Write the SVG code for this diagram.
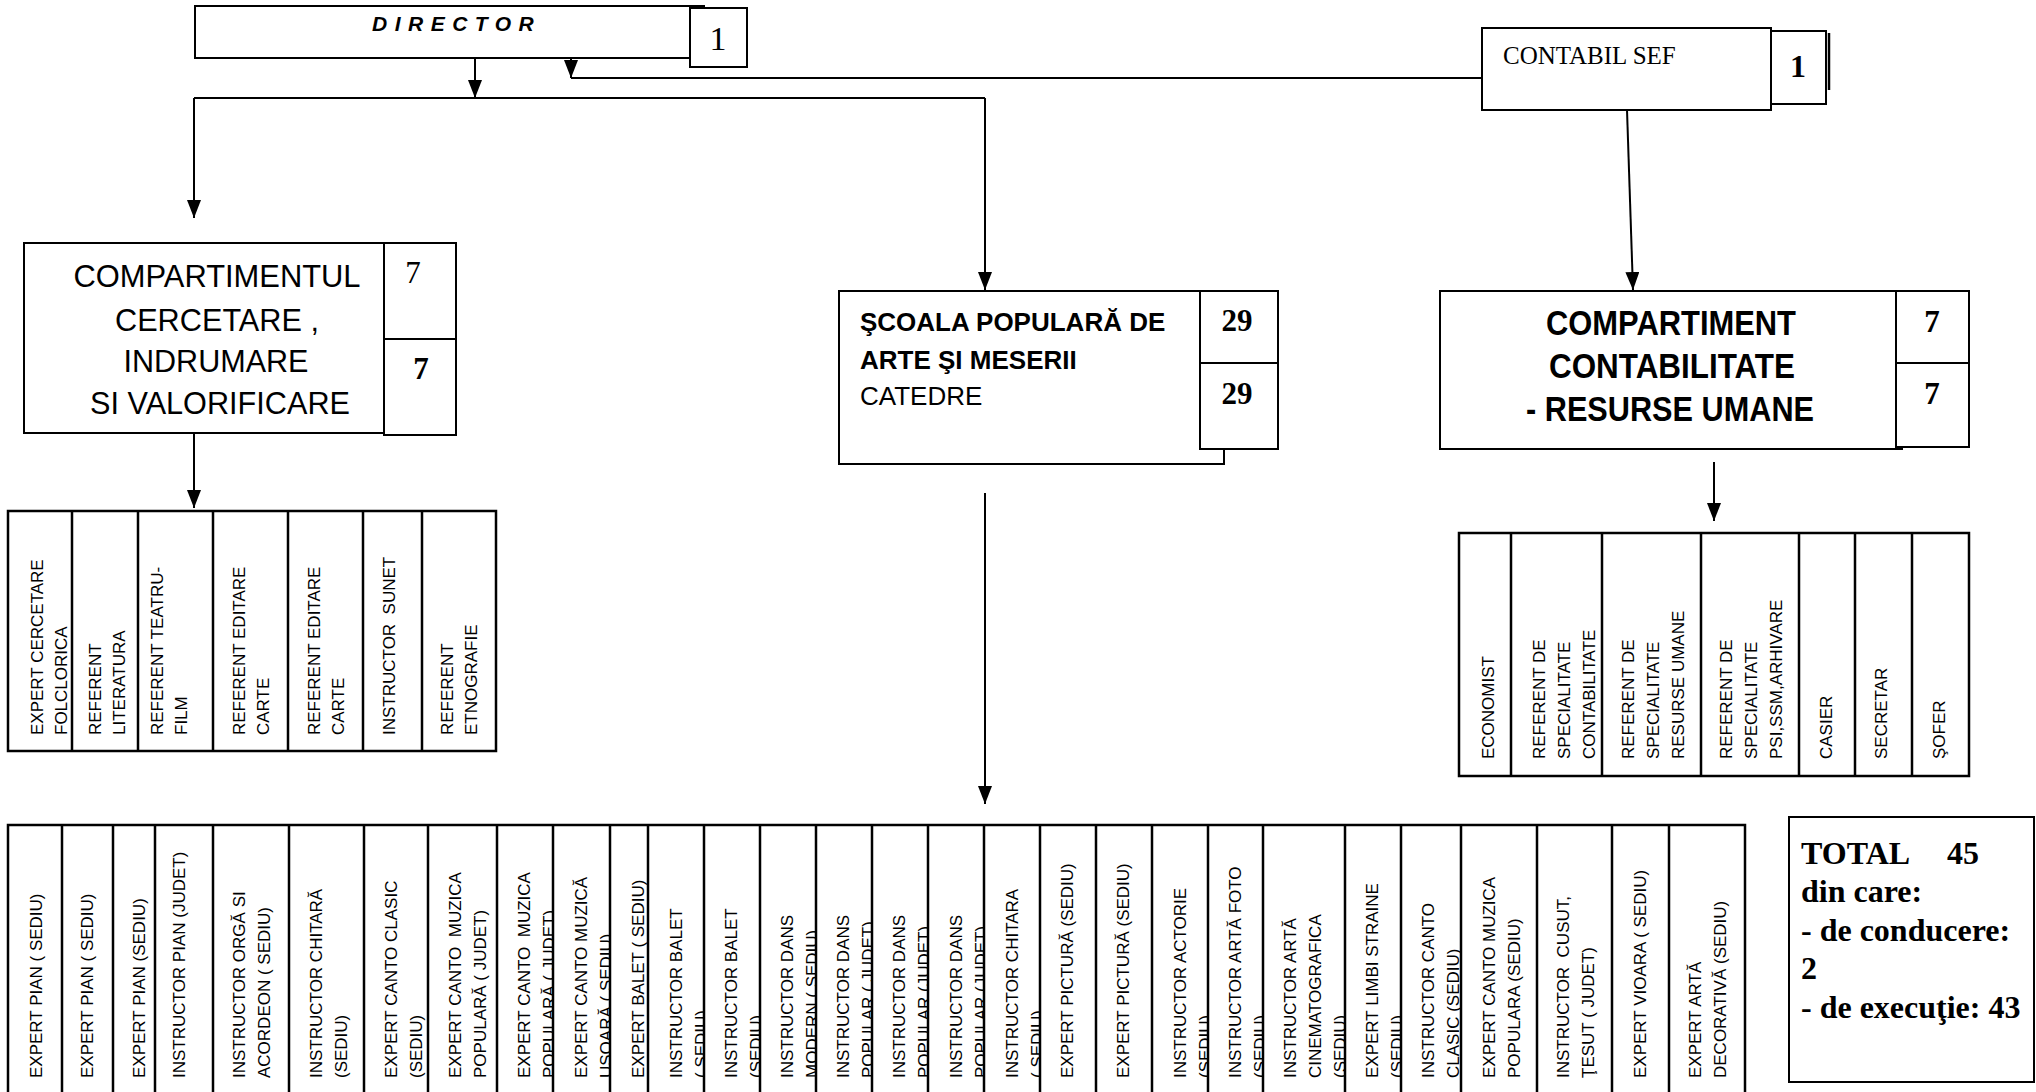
<svg xmlns="http://www.w3.org/2000/svg" width="2036" height="1092" viewBox="0 0 2036 1092">
<style>
.box{fill:#fff;stroke:#000;stroke-width:2}
.tbl{fill:none;stroke:#000;stroke-width:2.5}
.conn{fill:none;stroke:#000;stroke-width:2}
.sans{font-family:"Liberation Sans",Arial,sans-serif;fill:#000}
.serif{font-family:"Liberation Serif","Times New Roman",serif;fill:#000}
.vt{font-family:"Liberation Sans",Arial,sans-serif;font-size:17px;fill:#000;white-space:pre}
.big{font-size:31px}
.bigb{font-size:35px;font-weight:bold}
.num{font-size:31px;text-anchor:middle}
.tot{font-family:"Liberation Serif","Times New Roman",serif;font-size:32px;font-weight:bold;fill:#000}
</style>
<defs>
<marker id="arr" markerUnits="userSpaceOnUse" markerWidth="18" markerHeight="14" refX="18" refY="7" orient="auto">
<path d="M0,0 L18,7 L0,14 z" fill="#000"/>
</marker>
<clipPath id="k7"><rect x="364" y="825" width="64" height="270"/></clipPath>
<clipPath id="k9"><rect x="497" y="825" width="56" height="270"/></clipPath>
<clipPath id="k10"><rect x="553" y="825" width="57" height="270"/></clipPath>
<clipPath id="k12"><rect x="648" y="825" width="56" height="270"/></clipPath>
<clipPath id="k13"><rect x="704" y="825" width="56" height="270"/></clipPath>
<clipPath id="k14"><rect x="760" y="825" width="56" height="270"/></clipPath>
<clipPath id="k15"><rect x="816" y="825" width="56" height="270"/></clipPath>
<clipPath id="k16"><rect x="872" y="825" width="56" height="270"/></clipPath>
<clipPath id="k17"><rect x="928" y="825" width="56" height="270"/></clipPath>
<clipPath id="k18"><rect x="984" y="825" width="56" height="270"/></clipPath>
<clipPath id="k21"><rect x="1152" y="825" width="56" height="270"/></clipPath>
<clipPath id="k22"><rect x="1208" y="825" width="55" height="270"/></clipPath>
<clipPath id="k23"><rect x="1263" y="825" width="82" height="270"/></clipPath>
<clipPath id="k24"><rect x="1345" y="825" width="56" height="270"/></clipPath>
<clipPath id="k25"><rect x="1401" y="825" width="60" height="270"/></clipPath>
</defs>

<g id="connectors">
<path class="conn" d="M475,52 V98" marker-end="url(#arr)"/>
<path class="conn" d="M571,52 V78" marker-end="url(#arr)"/>
<path class="conn" d="M571,78 H1482"/>
<path class="conn" d="M194,98 H985"/>
<path class="conn" d="M194,98 V218" marker-end="url(#arr)"/>
<path class="conn" d="M985,98 V290" marker-end="url(#arr)"/>
<path class="conn" d="M1627,110 L1633,290" marker-end="url(#arr)"/>
<path class="conn" d="M194,433 V508" marker-end="url(#arr)"/>
<path class="conn" d="M985,493 V804" marker-end="url(#arr)"/>
<path class="conn" d="M1714,462 V521" marker-end="url(#arr)"/>
</g>

<g id="director">
<rect class="box" x="195" y="6" width="509" height="52"/>
<rect class="box" x="690" y="8" width="57" height="59"/>
<text class="sans" x="372" y="31" font-size="21" font-weight="bold" font-style="italic" letter-spacing="7.5">DIRECTOR</text>
<text class="serif" x="718" y="50" font-size="34" text-anchor="middle">1</text>
</g>

<g id="contabil-sef">
<rect class="box" x="1482" y="28" width="289" height="82"/>
<rect class="box" x="1771" y="31" width="55" height="73"/>
<line x1="1829" y1="33" x2="1829" y2="90" stroke="#000" stroke-width="2.5"/>
<text class="serif" x="1503" y="64" font-size="25">CONTABIL SEF</text>
<text class="serif" x="1798" y="77" font-size="32" font-weight="bold" text-anchor="middle">1</text>
</g>

<g id="compartiment-cercetare">
<rect class="box" x="24" y="243" width="385" height="190"/>
<rect class="box" x="384" y="243" width="72" height="96"/>
<rect class="box" x="384" y="339" width="72" height="96"/>
<text class="sans big" x="217" y="287" text-anchor="middle" textLength="287" lengthAdjust="spacingAndGlyphs">COMPARTIMENTUL</text>
<text class="sans big" x="217" y="331" text-anchor="middle" textLength="204" lengthAdjust="spacingAndGlyphs">CERCETARE ,</text>
<text class="sans big" x="216" y="372" text-anchor="middle" textLength="185" lengthAdjust="spacingAndGlyphs">INDRUMARE</text>
<text class="sans big" x="220" y="414" text-anchor="middle" textLength="260" lengthAdjust="spacingAndGlyphs">SI VALORIFICARE</text>
<text class="serif num" x="413" y="283">7</text>
<text class="serif num" x="421" y="379" font-weight="bold">7</text>
</g>

<g id="scoala-populara">
<rect class="box" x="839" y="291" width="385" height="173"/>
<rect class="box" x="1200" y="291" width="78" height="72"/>
<rect class="box" x="1200" y="363" width="78" height="86"/>
<text class="sans" x="860" y="331" font-size="26" font-weight="bold">ŞCOALA POPULARĂ DE</text>
<text class="sans" x="860" y="369" font-size="26" font-weight="bold">ARTE ŞI MESERII</text>
<text class="sans" x="860" y="405" font-size="26">CATEDRE</text>
<text class="serif num" x="1237" y="331" font-weight="bold">29</text>
<text class="serif num" x="1237" y="404" font-weight="bold">29</text>
</g>

<g id="compartiment-contabilitate">
<rect class="box" x="1440" y="291" width="462" height="158"/>
<rect class="box" x="1896" y="291" width="73" height="72"/>
<rect class="box" x="1896" y="363" width="73" height="84"/>
<text class="sans bigb" x="1671" y="335" text-anchor="middle" textLength="250" lengthAdjust="spacingAndGlyphs">COMPARTIMENT</text>
<text class="sans bigb" x="1672" y="378" text-anchor="middle" textLength="246" lengthAdjust="spacingAndGlyphs">CONTABILITATE</text>
<text class="sans bigb" x="1670" y="421" text-anchor="middle" textLength="288" lengthAdjust="spacingAndGlyphs">- RESURSE UMANE</text>
<text class="serif num" x="1932" y="332" font-weight="bold">7</text>
<text class="serif num" x="1932" y="404" font-weight="bold">7</text>
</g>

<g id="tabel-cercetare">
<rect class="tbl" x="8" y="511" width="488" height="240"/>
<path class="tbl" d="M72,511V751M138,511V751M213,511V751M288,511V751M363,511V751M422,511V751"/>
<text class="vt" transform="translate(43,735) rotate(-90)"><tspan x="0">EXPERT CERCETARE</tspan><tspan x="0" dy="24">FOLCLORICA</tspan></text>
<text class="vt" transform="translate(101,735) rotate(-90)"><tspan x="0">REFERENT</tspan><tspan x="0" dy="24">LITERATURA</tspan></text>
<text class="vt" transform="translate(163,735) rotate(-90)"><tspan x="0">REFERENT TEATRU-</tspan><tspan x="0" dy="24">FILM</tspan></text>
<text class="vt" transform="translate(245,735) rotate(-90)"><tspan x="0">REFERENT EDITARE</tspan><tspan x="0" dy="24">CARTE</tspan></text>
<text class="vt" transform="translate(320,735) rotate(-90)"><tspan x="0">REFERENT EDITARE</tspan><tspan x="0" dy="24">CARTE</tspan></text>
<text class="vt" transform="translate(395,735) rotate(-90)">INSTRUCTOR  SUNET</text>
<text class="vt" transform="translate(453,735) rotate(-90)"><tspan x="0">REFERENT</tspan><tspan x="0" dy="24">ETNOGRAFIE</tspan></text>
</g>

<g id="tabel-contabilitate">
<rect class="tbl" x="1459" y="533" width="510" height="243"/>
<path class="tbl" d="M1511,533V776M1602,533V776M1701,533V776M1799,533V776M1855,533V776M1912,533V776"/>
<text class="vt" transform="translate(1494,759) rotate(-90)">ECONOMIST</text>
<text class="vt" transform="translate(1545,759) rotate(-90)"><tspan x="0">REFERENT DE</tspan><tspan x="0" dy="25">SPECIALITATE</tspan><tspan x="0" dy="25">CONTABILITATE</tspan></text>
<text class="vt" transform="translate(1634,759) rotate(-90)"><tspan x="0">REFERENT DE</tspan><tspan x="0" dy="25">SPECIALITATE</tspan><tspan x="0" dy="25">RESURSE UMANE</tspan></text>
<text class="vt" transform="translate(1732,759) rotate(-90)"><tspan x="0">REFERENT DE</tspan><tspan x="0" dy="25">SPECIALITATE</tspan><tspan x="0" dy="25">PSI,SSM,ARHIVARE</tspan></text>
<text class="vt" transform="translate(1832,759) rotate(-90)">CASIER</text>
<text class="vt" transform="translate(1887,759) rotate(-90)">SECRETAR</text>
<text class="vt" transform="translate(1945,759) rotate(-90)">ŞOFER</text>
</g>

<g id="tabel-catedre">
<rect class="tbl" x="8" y="825" width="1737" height="290"/>
<path class="tbl" d="M62,825V1092M113,825V1092M155,825V1092M213,825V1092M289,825V1092M364,825V1092M428,825V1092M497,825V1092M553,825V1092M610,825V1092M648,825V1092M704,825V1092M760,825V1092M816,825V1092M872,825V1092M928,825V1092M984,825V1092M1040,825V1092M1096,825V1092M1152,825V1092M1208,825V1092M1263,825V1092M1345,825V1092M1401,825V1092M1461,825V1092M1537,825V1092M1612,825V1092M1669,825V1092"/>
<text class="vt" transform="translate(42,1078) rotate(-90)">EXPERT PIAN ( SEDIU)</text>
<text class="vt" transform="translate(93,1078) rotate(-90)">EXPERT PIAN ( SEDIU)</text>
<text class="vt" transform="translate(145,1078) rotate(-90)">EXPERT PIAN (SEDIU)</text>
<text class="vt" transform="translate(185,1078) rotate(-90)">INSTRUCTOR PIAN (JUDET)</text>
<text class="vt" transform="translate(245,1078) rotate(-90)"><tspan x="0">INSTRUCTOR ORGĂ SI</tspan><tspan x="0" dy="25">ACORDEON ( SEDIU)</tspan></text>
<text class="vt" transform="translate(322,1078) rotate(-90)"><tspan x="0">INSTRUCTOR CHITARĂ</tspan><tspan x="0" dy="25">(SEDIU)</tspan></text>
<g clip-path="url(#k7)"><text class="vt" transform="translate(397,1078) rotate(-90)"><tspan x="0">EXPERT CANTO CLASIC</tspan><tspan x="0" dy="25">(SEDIU)</tspan></text></g>
<text class="vt" transform="translate(461,1078) rotate(-90)"><tspan x="0">EXPERT CANTO  MUZICA</tspan><tspan x="0" dy="25">POPULARĂ ( JUDET)</tspan></text>
<g clip-path="url(#k9)"><text class="vt" transform="translate(530,1078) rotate(-90)"><tspan x="0">EXPERT CANTO  MUZICA</tspan><tspan x="0" dy="25">POPULARĂ ( JUDET)</tspan></text></g>
<g clip-path="url(#k10)"><text class="vt" transform="translate(587,1078) rotate(-90)"><tspan x="0">EXPERT CANTO MUZICĂ</tspan><tspan x="0" dy="25">USOARĂ ( SEDIU)</tspan></text></g>
<text class="vt" transform="translate(644,1078) rotate(-90)">EXPERT BALET ( SEDIU)</text>
<g clip-path="url(#k12)"><text class="vt" transform="translate(682,1078) rotate(-90)"><tspan x="0">INSTRUCTOR BALET</tspan><tspan x="0" dy="25">( SEDIU)</tspan></text></g>
<g clip-path="url(#k13)"><text class="vt" transform="translate(737,1078) rotate(-90)"><tspan x="0">INSTRUCTOR BALET</tspan><tspan x="0" dy="25">(SEDIU)</tspan></text></g>
<g clip-path="url(#k14)"><text class="vt" transform="translate(793,1078) rotate(-90)"><tspan x="0">INSTRUCTOR DANS</tspan><tspan x="0" dy="25">MODERN ( SEDIU)</tspan></text></g>
<g clip-path="url(#k15)"><text class="vt" transform="translate(849,1078) rotate(-90)"><tspan x="0">INSTRUCTOR DANS</tspan><tspan x="0" dy="25">POPULAR ( JUDET)</tspan></text></g>
<g clip-path="url(#k16)"><text class="vt" transform="translate(905,1078) rotate(-90)"><tspan x="0">INSTRUCTOR DANS</tspan><tspan x="0" dy="25">POPULAR (JUDET)</tspan></text></g>
<g clip-path="url(#k17)"><text class="vt" transform="translate(962,1078) rotate(-90)"><tspan x="0">INSTRUCTOR DANS</tspan><tspan x="0" dy="25">POPULAR (JUDET)</tspan></text></g>
<g clip-path="url(#k18)"><text class="vt" transform="translate(1018,1078) rotate(-90)"><tspan x="0">INSTRUCTOR CHITARA</tspan><tspan x="0" dy="25">( SEDIU)</tspan></text></g>
<text class="vt" transform="translate(1073,1078) rotate(-90)">EXPERT PICTURĂ (SEDIU)</text>
<text class="vt" transform="translate(1129,1078) rotate(-90)">EXPERT PICTURĂ (SEDIU)</text>
<g clip-path="url(#k21)"><text class="vt" transform="translate(1186,1078) rotate(-90)"><tspan x="0">INSTRUCTOR ACTORIE</tspan><tspan x="0" dy="25">(SEDIU)</tspan></text></g>
<g clip-path="url(#k22)"><text class="vt" transform="translate(1241,1078) rotate(-90)"><tspan x="0">INSTRUCTOR ARTĂ FOTO</tspan><tspan x="0" dy="25">(SEDIU)</tspan></text></g>
<g clip-path="url(#k23)"><text class="vt" transform="translate(1296,1078) rotate(-90)"><tspan x="0">INSTRUCTOR ARTĂ</tspan><tspan x="0" dy="25">CINEMATOGRAFICA</tspan><tspan x="0" dy="25">(SEDIU)</tspan></text></g>
<g clip-path="url(#k24)"><text class="vt" transform="translate(1378,1078) rotate(-90)"><tspan x="0">EXPERT LIMBI STRAINE</tspan><tspan x="0" dy="25">(SEDIU)</tspan></text></g>
<g clip-path="url(#k25)"><text class="vt" transform="translate(1434,1078) rotate(-90)"><tspan x="0">INSTRUCTOR CANTO</tspan><tspan x="0" dy="25">CLASIC (SEDIU)</tspan></text></g>
<text class="vt" transform="translate(1495,1078) rotate(-90)"><tspan x="0">EXPERT CANTO MUZICA</tspan><tspan x="0" dy="25">POPULARA (SEDIU)</tspan></text>
<text class="vt" transform="translate(1569,1078) rotate(-90)"><tspan x="0">INSTRUCTOR  CUSUT,</tspan><tspan x="0" dy="25">ŢESUT ( JUDET)</tspan></text>
<text class="vt" transform="translate(1646,1078) rotate(-90)">EXPERT VIOARA ( SEDIU)</text>
<text class="vt" transform="translate(1701,1078) rotate(-90)"><tspan x="0">EXPERT ARTĂ</tspan><tspan x="0" dy="25">DECORATIVĂ (SEDIU)</tspan></text>
</g>

<g id="total">
<rect class="box" x="1789" y="817" width="245" height="265"/>
<text class="tot"><tspan x="1801" y="864">TOTAL</tspan><tspan x="1947" y="864">45</tspan></text>
<text class="tot" x="1801" y="902">din care:</text>
<text class="tot" x="1801" y="941">- de conducere:</text>
<text class="tot" x="1801" y="979">2</text>
<text class="tot" x="1801" y="1018">- de execuţie: 43</text>
</g>
</svg>
